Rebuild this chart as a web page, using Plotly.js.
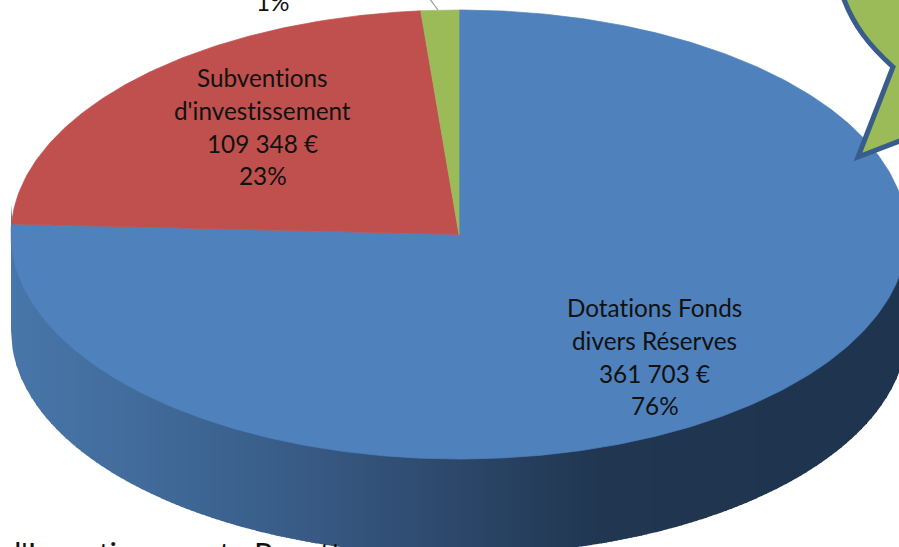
<!DOCTYPE html>
<html><head><meta charset="utf-8">
<script src="https://cdn.plot.ly/plotly-3.0.1.min.js"></script>
<style>html,body{margin:0;padding:0;background:#fff;overflow:hidden}#c{width:899px;height:547px}
svg text{font-variant-ligatures:none;font-feature-settings:"liga" 0,"clig" 0}</style>
</head><body><div id="c"></div>
<script>
// Data
const categories = ["Dotations Fonds divers Réserves", "Subventions d'investissement", "Autres"];
const values = [361703, 109348, 6500];
const colors = ["#4F81BD", "#C0504D", "#9BBB59"];
const blueLabel = ["Dotations Fonds", "divers Réserves", "361 703 €", "76%"];
const redLabel = ["Subventions", "d'investissement", "109 348 €", "23%"];
const greenLabel = ["1%"];
const bottomText = "d'Investissement : Recette";

// Pie geometry, in the pixel-sized axis units
const cx = 459, cy = 234.5, rx = 448, ry = 224.5, depth = 96;
const wallStops = [[11,[72,118,170]],[120,[66,109,157]],[300,[56,91,134]],[450,[45,72,107]],[600,[32,54,81]],[907,[31,52,78]]];

function wallColor(x){
  for(let i=1;i<wallStops.length;i++){
    if(x<=wallStops[i][0]){
      const a=wallStops[i-1],b=wallStops[i],t=(x-a[0])/(b[0]-a[0]);
      return 'rgb('+a[1].map((v,k)=>Math.round(v+(b[1][k]-v)*t)).join(',')+')';
    }
  }
  return 'rgb(31,52,78)';
}
function rimY(x){const u=(x-cx)/rx;return cy+ry*Math.sqrt(Math.max(0,1-u*u));}
const traces=[];
function poly(xs,ys,color,w){
  traces.push({type:'scatter',mode:'lines',x:xs,y:ys,fill:'toself',fillcolor:color,
    line:{width:w||0,color:color},hoverinfo:'skip',showlegend:false});
}
// Side wall: vertical bands painted left to right, each overlapping the next
const step=5;
for(let x=cx-rx;x<cx+rx;x+=step){
  const x2=Math.min(x+step+1,cx+rx),xs=[],ys=[];
  for(let k=0;k<=4;k++){const q=x+(x2-x)*k/4;xs.push(q);ys.push(rimY(q)-30);}
  for(let k=4;k>=0;k--){const q=x+(x2-x)*k/4;xs.push(q);ys.push(rimY(q)+depth);}
  poly(xs,ys,wallColor(x+step/2));
}
// Top face: wedges clockwise from twelve o'clock
const total=values.reduce((a,b)=>a+b,0);
let cum=0;
values.forEach((v,i)=>{
  const a0=cum/total*2*Math.PI,a1=(cum+v)/total*2*Math.PI;cum+=v;
  const xs=[cx],ys=[cy],n=Math.max(4,Math.ceil((a1-a0)*90));
  for(let k=0;k<=n;k++){const a=a0+(a1-a0)*k/n;xs.push(cx+rx*Math.sin(a));ys.push(cy-ry*Math.cos(a));}
  xs.push(cx);ys.push(cy);
  poly(xs,ys,colors[i],0.7);
});

const font={family:'Lato, Carlito, sans-serif',size:24.3,color:'#111'};
function lines(arr,x,ys){return arr.map((t,i)=>({x:x,y:ys[i],text:t,showarrow:false,xanchor:'center',yanchor:'middle',font:font}));}
const annotations=[
  ...lines(blueLabel,654.5,[307,340,373,405]),
  ...lines(redLabel,262.5,[77,110,143,175]),
  ...lines(greenLabel,273,[1]),
  {xref:'x',yref:'paper',x:2,y:-6/547,text:bottomText,showarrow:false,xanchor:'left',yanchor:'middle',font:{family:'Lato, Carlito, sans-serif',size:31,color:'#111'}}
];
const shapes=[
  {type:'line',x0:429,y0:-2,x1:438,y1:10,line:{color:'#9a9a9a',width:1.2}},
  {type:'path',path:'M 842,-6 C 853,26 870,46 893,67 L 858,157 L 905,139 L 905,-6 Z',
   fillcolor:'#9BBB59',line:{color:'#385D8A',width:5}}
];
const hidden={visible:false,fixedrange:true};
Plotly.newPlot('c',traces,{
  width:899,height:547,margin:{l:0,r:0,t:0,b:0},showlegend:false,
  paper_bgcolor:'#fff',plot_bgcolor:'#fff',
  xaxis:{...hidden,range:[0,899]},yaxis:{...hidden,range:[547,0]},
  annotations,shapes
},{displayModeBar:false,staticPlot:true});
</script></body></html>
